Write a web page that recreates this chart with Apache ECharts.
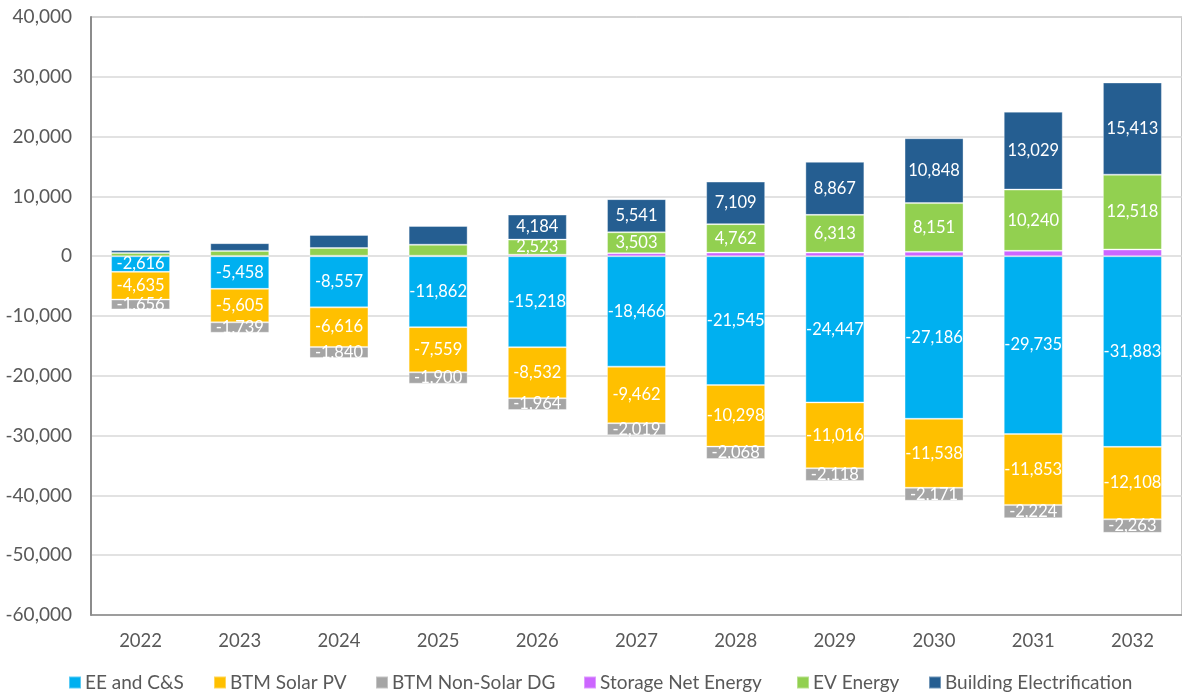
<!DOCTYPE html>
<html>
<head>
<meta charset="utf-8">
<script src="https://cdn.jsdelivr.net/npm/echarts@6/dist/echarts.min.js"></script>
<style>
  html, body { margin: 0; padding: 0; background: #fff; }
  #chart { width: 1182px; height: 698px; }
</style>
</head>
<body>
<div id="chart"></div>
<script>
// categories
let years = ["2022", "2023", "2024", "2025", "2026", "2027", "2028", "2029", "2030", "2031", "2032"];

// series values (small unlabeled ones estimated)
let eeCS = [-2616, -5458, -8557, -11862, -15218, -18466, -21545, -24447, -27186, -29735, -31883];
let btmSolar = [-4635, -5605, -6616, -7559, -8532, -9462, -10298, -11016, -11538, -11853, -12108];
let btmNonSolar = [-1656, -1739, -1840, -1900, -1964, -2019, -2068, -2118, -2171, -2224, -2263];
let storage = [0, 50, 80, 80, 250, 500, 600, 600, 730, 900, 1120];
let evEnergy = [550, 840, 1290, 1840, 2523, 3503, 4762, 6313, 8151, 10240, 12518];
let buildElec = [450, 1290, 2180, 3130, 4184, 5541, 7109, 8867, 10848, 13029, 15413];

let names = ["EE and C&S", "BTM Solar PV", "BTM Non-Solar DG", "Storage Net Energy", "EV Energy", "Building Electrification"];
let colors = ["#00B0F0", "#FFC000", "#A5A5A5", "#CC66FF", "#92D050", "#255E91"];
let allData = [eeCS, btmSolar, btmNonSolar, storage, evEnergy, buildElec];
// labels only on the segments that carry one in the reference
let minLabel = [0, 0, 0, Infinity, 2500, 4000];
// left edge of each legend entry
let legendLeft = [68, 213, 375, 583, 796, 928];

let fmt = function (v) {
  let s = Math.abs(v).toLocaleString("en-US");
  return v < 0 ? "-" + s : s;
};

let myChart = echarts.init(document.getElementById("chart"));

let series = [];
let legends = [];
for (let i = 0; i < names.length; i++) {
  let lim = minLabel[i];
  series.push({
    name: names[i],
    type: "bar",
    stack: "total",
    barWidth: 59,
    data: allData[i],
    itemStyle: {
      color: colors[i],
      borderColor: "rgba(255,255,255,0.35)",
      borderWidth: 1
    },
    label: {
      show: true,
      position: "inside",
      color: "#fff",
      fontFamily: "Lato",
      fontSize: 16.5,
      formatter: function (p) {
        return Math.abs(p.value) >= lim ? fmt(p.value) : "";
      }
    }
  });
  legends.push({
    data: [names[i]],
    top: 673,
    left: legendLeft[i],
    padding: 0,
    itemWidth: 12,
    itemHeight: 12,
    itemGap: 4,
    icon: "rect",
    textStyle: { fontSize: 19, color: "#595959", fontFamily: "Lato", padding: [0, 0, 0, -1] }
  });
}

let option = {
  animation: false,
  textStyle: { fontFamily: "Lato" },
  grid: {
    left: 91,
    right: -4,
    top: 17,
    bottom: 83,
    show: true,
    borderColor: "#8C8C8C",
    borderWidth: 1
  },
  legend: legends,
  xAxis: {
    type: "category",
    data: years,
    axisTick: { show: false },
    axisLine: { onZero: false, lineStyle: { color: "#8C8C8C", width: 1.5 } },
    axisLabel: { color: "#595959", fontSize: 18.5, margin: 17 }
  },
  yAxis: {
    type: "value",
    min: -60000,
    max: 40000,
    interval: 10000,
    axisLine: { show: true, lineStyle: { color: "#8C8C8C", width: 2 } },
    axisTick: { show: false },
    splitLine: { lineStyle: { color: "#D9D9D9", width: 1.5 } },
    axisLabel: {
      color: "#595959",
      fontSize: 19,
      margin: 19,
      formatter: function (v) { return fmt(v); }
    }
  },
  series: series
};

myChart.setOption(option);
</script>
</body>
</html>
